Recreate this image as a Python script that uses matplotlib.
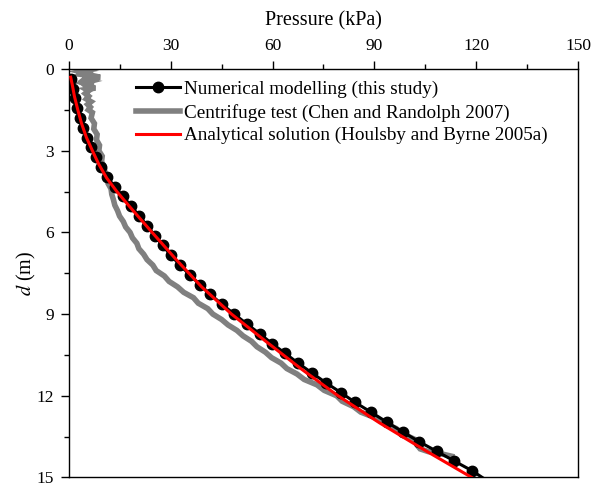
import matplotlib

matplotlib.use("Agg")
import matplotlib.pyplot as plt
from matplotlib.ticker import MultipleLocator

plt.rcParams["font.family"] = ["Liberation Serif", "DejaVu Serif"]
plt.rcParams["mathtext.fontset"] = "stix"

# numerical modelling: depth (m) and pressure (kPa), one marker per point
num_d = [0.36, 0.72, 1.08, 1.44, 1.80, 2.16, 2.52, 2.88, 3.24, 3.60,
         3.96, 4.32, 4.68, 5.04, 5.40, 5.76, 6.12, 6.48, 6.84, 7.20,
         7.56, 7.92, 8.28, 8.64, 9.00, 9.36, 9.72, 10.08, 10.44, 10.80,
         11.16, 11.52, 11.88, 12.24, 12.60, 12.96, 13.32, 13.68, 14.04, 14.40,
         14.76, 15.00]
num_p = [0.7, 1.2, 1.8, 2.5, 3.2, 4.2, 5.3, 6.5, 7.9, 9.4,
         11.2, 13.5, 15.9, 18.4, 20.7, 23.1, 25.3, 27.6, 30.0, 32.7,
         35.6, 38.6, 41.7, 45.1, 48.7, 52.4, 56.2, 59.8, 63.7, 67.5,
         71.6, 75.7, 80.1, 84.3, 89.0, 93.6, 98.3, 103.1, 108.4, 113.6,
         118.9, 121.8]

# centrifuge test (noisy record)
cen_d = [0.00, 0.05, 0.10, 0.15, 0.20, 0.25, 0.30, 0.35, 0.40, 0.45,
         0.50, 0.55, 0.60, 0.65, 0.70, 0.75, 0.80, 0.90, 1.00, 1.10,
         1.20, 1.30, 1.40, 1.50, 1.60, 1.80, 2.00, 2.20, 2.40, 2.60,
         2.80, 3.00, 3.20, 3.40, 3.60, 3.80, 4.00, 4.20, 4.40, 4.60,
         4.80, 5.00, 5.20, 5.40, 5.60, 5.80, 6.00, 6.20, 6.40, 6.60,
         6.80, 7.00, 7.20, 7.40, 7.60, 7.80, 8.00, 8.20, 8.40, 8.60,
         8.80, 9.00, 9.20, 9.40, 9.60, 9.80, 10.00, 10.20, 10.40, 10.60,
         10.80, 11.00, 11.20, 11.40, 11.60, 11.80, 12.00, 12.20, 12.40, 12.60,
         12.80, 13.00, 13.20, 13.40, 13.60, 13.80, 13.95, 14.05, 14.15, 14.22]
cen_p = [3.8, 5.3, 3.3, 4.8, 3.8, 7.3, 9.2, 4.8, 4.3, 6.3,
         4.8, 7.3, 4.8, 5.3, 7.8, 5.1, 5.8, 4.8, 5.8, 5.1,
         6.5, 5.5, 6.3, 5.7, 6.9, 6.5, 7.5, 7.3, 8.3, 8.1,
         9.0, 8.8, 9.8, 9.6, 10.4, 10.6, 11.4, 11.5, 12.4, 12.6,
         13.1, 13.5, 14.3, 14.9, 16.0, 16.7, 18.0, 18.7, 20.0, 20.6,
         22.0, 23.0, 24.7, 25.7, 28.1, 29.5, 32.0, 33.8, 36.7, 38.1,
         40.9, 42.4, 45.0, 46.9, 49.5, 51.3, 53.8, 55.4, 57.9, 59.7,
         62.5, 64.2, 67.2, 69.3, 73.1, 75.2, 78.9, 80.5, 83.9, 86.0,
         90.1, 92.7, 96.4, 98.4, 101.9, 102.5, 103.5, 105.9, 110.4, 112.8]

# analytical solution
ana_d = [0.30, 0.60, 1.00, 1.50, 2.00, 2.50, 3.00, 3.50, 4.00, 4.50,
         5.00, 6.00, 7.00, 8.00, 9.00, 10.00, 11.00, 12.00, 13.00, 14.00,
         15.00]
ana_p = [0.5, 1.0, 1.6, 2.6, 3.7, 5.1, 6.9, 8.8, 11.1, 14.1,
         17.5, 24.5, 31.6, 39.1, 47.9, 58.0, 68.3, 79.3, 91.6, 104.9,
         118.7]

labels = [
    "Numerical modelling (this study)",
    "Centrifuge test (Chen and Randolph 2007)",
    "Analytical solution (Houlsby and Byrne 2005a)",
]

fig = plt.figure(figsize=(6.02, 4.83), dpi=100)
ax = fig.add_axes([0.1146, 0.0114, 0.8455, 0.8457])

l_cen, = ax.plot(cen_p, cen_d, color="#808080", lw=4.0, zorder=2,
                 solid_joinstyle="miter")
l_num, = ax.plot(num_p, num_d, color="black", lw=2.2, marker="o", ms=7.5,
                 markevery=slice(0, len(num_d) - 1), zorder=3)
l_ana, = ax.plot(ana_p, ana_d, color="#ff0000", lw=2.2, zorder=4)

ax.set_xlim(0, 150)
ax.set_ylim(15, 0)
ax.xaxis.set_major_locator(MultipleLocator(30))
ax.xaxis.set_minor_locator(MultipleLocator(15))
ax.yaxis.set_major_locator(MultipleLocator(3))
ax.yaxis.set_minor_locator(MultipleLocator(1.5))
ax.xaxis.tick_top()
ax.xaxis.set_label_position("top")
ax.tick_params(which="both", direction="out", top=True, bottom=False,
               left=True, right=False, labelsize=12.5, width=1.0, pad=5)
ax.tick_params(which="major", length=6)
ax.tick_params(which="minor", length=3.5)
for sp in ax.spines.values():
    sp.set_linewidth(1.0)

ax.set_xlabel("Pressure (kPa)", fontsize=14.5, labelpad=9)
ax.set_ylabel(r"$d$ (m)", fontsize=14.5, labelpad=-1)

ax.legend([l_num, l_cen, l_ana], labels, loc="upper left",
          bbox_to_anchor=(0.117, 0.99), frameon=False, fontsize=13.8,
          handlelength=2.3, handletextpad=0.2, labelspacing=0.28,
          borderaxespad=0.0, borderpad=0.4)

fig.savefig("out.png", dpi=100)
plt.close(fig)
